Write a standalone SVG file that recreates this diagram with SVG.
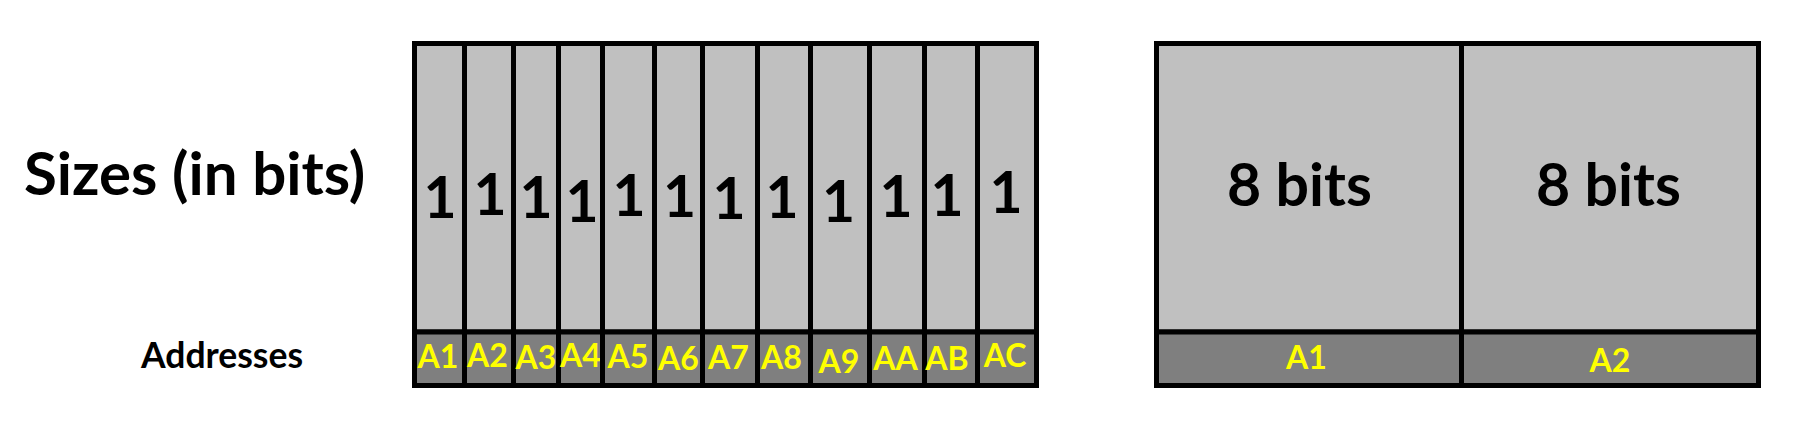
<svg xmlns="http://www.w3.org/2000/svg" width="1806" height="426" viewBox="0 0 1806 426">
<style>
text{font-family:Lato,"Open Sans","Liberation Sans",sans-serif;font-weight:bold}
.top{fill:#C0C0C0;stroke:#000;stroke-width:5}
.bot{fill:#7F7F7F;stroke:#000;stroke-width:5}
.one{font-size:57px;fill:#000;text-anchor:middle}
.adr{font-size:32px;fill:#FFFF00;text-anchor:middle}
.big{font-size:59px;fill:#000;text-anchor:middle}
.lbl{fill:#000}
</style>
<rect width="1806" height="426" fill="#fff"/>
<g id="labels">
<text class="lbl" x="24" y="195" font-size="60">Sizes (in bits)</text>
<text class="lbl" x="222" y="368" font-size="35.5" text-anchor="middle">Addresses</text>
</g>
<g id="bits1">
<g id="c1"><rect class="top" x="414.5" y="43.5" width="50" height="288.5"/><rect class="bot" x="414.5" y="332" width="50" height="53.5"/><text class="one" x="440" y="218">1</text><text class="adr" x="438" y="368.3">A1</text></g>
<g id="c2"><rect class="top" x="464.5" y="43.5" width="49" height="288.5"/><rect class="bot" x="464.5" y="332" width="49" height="53.5"/><text class="one" x="490" y="215">1</text><text class="adr" x="487.5" y="366.7">A2</text></g>
<g id="c3"><rect class="top" x="513.5" y="43.5" width="45" height="288.5"/><rect class="bot" x="513.5" y="332" width="45" height="53.5"/><text class="one" x="536" y="218">1</text><text class="adr" x="536" y="369">A3</text></g>
<g id="c4"><rect class="top" x="558.5" y="43.5" width="44" height="288.5"/><rect class="bot" x="558.5" y="332" width="44" height="53.5"/><text class="one" x="582" y="222">1</text><text class="adr" x="580.5" y="367">A4</text></g>
<g id="c5"><rect class="top" x="602.5" y="43.5" width="52" height="288.5"/><rect class="bot" x="602.5" y="332" width="52" height="53.5"/><text class="one" x="629" y="216">1</text><text class="adr" x="628" y="368">A5</text></g>
<g id="c6"><rect class="top" x="654.5" y="43.5" width="48" height="288.5"/><rect class="bot" x="654.5" y="332" width="48" height="53.5"/><text class="one" x="679.5" y="217">1</text><text class="adr" x="678.5" y="370">A6</text></g>
<g id="c7"><rect class="top" x="702.5" y="43.5" width="55" height="288.5"/><rect class="bot" x="702.5" y="332" width="55" height="53.5"/><text class="one" x="729" y="219">1</text><text class="adr" x="728.5" y="369">A7</text></g>
<g id="c8"><rect class="top" x="757.5" y="43.5" width="53" height="288.5"/><rect class="bot" x="757.5" y="332" width="53" height="53.5"/><text class="one" x="782" y="218">1</text><text class="adr" x="781.5" y="369">A8</text></g>
<g id="c9"><rect class="top" x="810.5" y="43.5" width="59" height="288.5"/><rect class="bot" x="810.5" y="332" width="59" height="53.5"/><text class="one" x="838.5" y="222">1</text><text class="adr" x="839" y="372.7">A9</text></g>
<g id="c10"><rect class="top" x="869.5" y="43.5" width="55" height="288.5"/><rect class="bot" x="869.5" y="332" width="55" height="53.5"/><text class="one" x="896" y="217">1</text><text class="adr" x="895.5" y="370">AA</text></g>
<g id="c11"><rect class="top" x="924.5" y="43.5" width="53" height="288.5"/><rect class="bot" x="924.5" y="332" width="53" height="53.5"/><text class="one" x="947" y="216">1</text><text class="adr" x="947" y="370">AB</text></g>
<g id="c12"><rect class="top" x="977.5" y="43.5" width="59" height="288.5"/><rect class="bot" x="977.5" y="332" width="59" height="53.5"/><text class="one" x="1006" y="213">1</text><text class="adr" x="1005" y="367">AC</text></g>
</g>
<g id="bytes">
<g id="b1"><rect class="top" x="1156.5" y="43.5" width="305" height="288.5"/><rect class="bot" x="1156.5" y="332" width="305" height="53.5"/><text class="big" x="1299.5" y="206">8 bits</text><text class="adr" x="1306.5" y="369.3">A1</text></g>
<g id="b2"><rect class="top" x="1461.5" y="43.5" width="297" height="288.5"/><rect class="bot" x="1461.5" y="332" width="297" height="53.5"/><text class="big" x="1608.5" y="206">8 bits</text><text class="adr" x="1610" y="371.7">A2</text></g>
</g>
<g id="connectors"/>
</svg>
